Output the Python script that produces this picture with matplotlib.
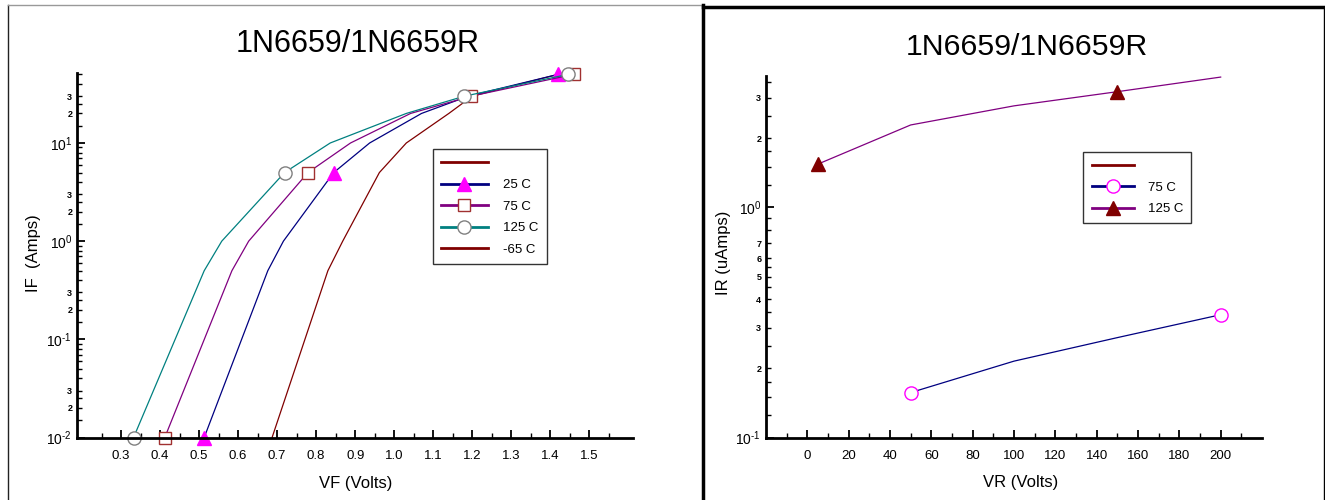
import numpy as np
import matplotlib
matplotlib.use('Agg')
import matplotlib.pyplot as plt
from matplotlib.ticker import FixedLocator, LogLocator, FuncFormatter
from matplotlib.lines import Line2D

plt.rcParams['font.family'] = ['Liberation Sans', 'DejaVu Sans']
plt.rcParams['mathtext.fontset'] = 'custom'
plt.rcParams['mathtext.rm'] = 'Liberation Sans'
plt.rcParams['mathtext.default'] = 'rm'

title = '1N6659/1N6659R'

# forward characteristic, IF in Amps
if_amps = [0.01, 0.5, 1.0, 5, 10, 20, 30, 50]
vf_25 = [0.513, 0.676, 0.716, 0.845, 0.937, 1.07, 1.19, 1.42]
vf_75 = [0.412, 0.584, 0.627, 0.779, 0.888, 1.042, 1.197, 1.46]
vf_125 = [0.332, 0.513, 0.558, 0.719, 0.836, 1.031, 1.18, 1.446]
vf_m65 = [0.687, 0.83, 0.868, 0.962, 1.031, 1.14, 1.20, 1.42]
vf_ticks = [0.3, 0.4, 0.5, 0.6, 0.7, 0.8, 0.9, 1.0, 1.1, 1.2, 1.3, 1.4, 1.5]

# reverse leakage, IR in uAmps
vr_75 = [50, 100, 150, 200]
ir_75 = [0.157, 0.215, 0.272, 0.342]
vr_125 = [5, 50, 100, 150, 200]
ir_125 = [1.54, 2.28, 2.76, 3.18, 3.68]
vr_ticks = [0, 20, 40, 60, 80, 100, 120, 140, 160, 180, 200]

navy = '#000080'
purple = '#800080'
teal = '#008080'
dred = '#800000'
magenta = '#ff00ff'

W, H = 1325, 500
fig = plt.figure(figsize=(13.25, 5), dpi=100)


def px_axes(l, r, t, b):
    return fig.add_axes([l / W, 1 - b / H, (r - l) / W, (b - t) / H])


def mantissa(v):
    return v / 10 ** np.floor(np.log10(v) + 1e-9)


def major_fmt(v, pos):
    e = int(round(np.log10(v)))
    if e < 0:
        return r'10$^{\text{-}%d}$' % -e
    return '10$^{%d}$' % e


def minor_fmt(keep):
    def f(v, pos):
        m = mantissa(v)
        for k in keep:
            if abs(m - k) < 1e-6:
                return str(k)
        return ''
    return f


def style(ax):
    for s in ['top', 'right']:
        ax.spines[s].set_visible(False)
    for s in ['left', 'bottom']:
        ax.spines[s].set_linewidth(2)
    ax.tick_params(which='major', direction='in', length=6, width=1.3, labelsize=9.5)
    ax.tick_params(which='minor', direction='in', length=3.5, width=1)
    ax.tick_params(axis='x', which='major', pad=9)
    ax.tick_params(axis='y', which='major', labelsize=10)
    ax.tick_params(axis='y', which='minor', labelsize=6.5)
    for lab in ax.get_yticklabels(minor=True):
        lab.set_fontweight('bold')


def make_legend(ax, handles, labels, hl, tp):
    leg = ax.legend(handles, labels, loc='upper left', bbox_to_anchor=(0.64, 0.79),
                    numpoints=1, fontsize=9.5, frameon=True, fancybox=False,
                    edgecolor='#333333', framealpha=1, handlelength=hl,
                    handletextpad=tp, labelspacing=0.7, borderpad=0.62,
                    borderaxespad=0)
    leg.get_frame().set_linewidth(1)
    for ln in leg.get_lines():
        ln.set_linewidth(2)
    return leg


# ---- left: forward voltage ----
ax1 = px_axes(77, 633, 72.7, 437.5)
ax1.set_yscale('log')
ax1.set_xlim(0.187, 1.612)
ax1.set_ylim(0.01, 52)

l_m65, = ax1.plot(vf_m65, if_amps, color=dred, lw=0.9)
l_25, = ax1.plot(vf_25, if_amps, color=navy, lw=0.9, marker='^', ms=10,
                 mfc=magenta, mec=magenta, markevery=[0, 3, 7], clip_on=False)
l_75, = ax1.plot(vf_75, if_amps, color=purple, lw=0.9, marker='s', ms=9,
                 mfc='white', mec='#a03030', markevery=[0, 3, 6, 7], clip_on=False)
l_125, = ax1.plot(vf_125, if_amps, color=teal, lw=0.9, marker='o', ms=9.5,
                  mfc='white', mec='#808080', markevery=[0, 3, 6, 7], clip_on=False)

ax1.xaxis.set_major_locator(FixedLocator(vf_ticks))
ax1.xaxis.set_minor_locator(FixedLocator([v - 0.05 for v in vf_ticks] + [1.55]))
ax1.xaxis.set_major_formatter(FuncFormatter(lambda v, p: '%.1f' % v))
ax1.yaxis.set_major_locator(LogLocator(base=10, numticks=10))
ax1.yaxis.set_minor_locator(LogLocator(base=10, subs=[1.5, 2, 2.5, 3, 4, 5, 6, 7, 8, 9], numticks=20))
ax1.yaxis.set_major_formatter(FuncFormatter(major_fmt))
ax1.yaxis.set_minor_formatter(FuncFormatter(minor_fmt([2, 3])))
style(ax1)

ax1.set_xlabel('VF (Volts)', fontsize=12, va='center')
ax1.xaxis.set_label_coords(0.501, -0.125)
ax1.set_ylabel('IF  (Amps)', fontsize=12, va='center')
ax1.yaxis.set_label_coords(-0.078, 0.506)

blank1 = Line2D([], [], color=dred)
make_legend(ax1, [blank1, l_25, l_75, l_125, l_m65], ['', '25 C', '75 C', '125 C', '-65 C'],
            3.55, 1.15)

fig.text(358 / W, 1 - 44 / H, title, fontsize=22, ha='center', va='center')

# ---- right: reverse current ----
ax2 = px_axes(766, 1262, 76, 437.7)
ax2.set_yscale('log')
ax2.set_xlim(-20, 220)
ax2.set_ylim(0.1, 3.72)

r_75, = ax2.plot(vr_75, ir_75, color=navy, lw=0.9, marker='o', ms=9.5,
                 mfc='white', mec=magenta, markevery=[0, 3], clip_on=False)
r_125, = ax2.plot(vr_125, ir_125, color=purple, lw=0.9, marker='^', ms=10,
                  mfc=dred, mec=dred, markevery=[0, 3], clip_on=False)

ax2.xaxis.set_major_locator(FixedLocator(vr_ticks))
ax2.xaxis.set_minor_locator(FixedLocator([v - 10 for v in vr_ticks] + [210]))
ax2.yaxis.set_major_locator(LogLocator(base=10, numticks=10))
ax2.yaxis.set_minor_locator(LogLocator(base=10, subs=[1.25, 1.5, 1.75, 2, 2.5, 3, 3.5, 4, 4.5,
                                                       5, 5.5, 6, 7, 8, 9], numticks=30))
ax2.yaxis.set_major_formatter(FuncFormatter(major_fmt))
ax2.yaxis.set_minor_formatter(FuncFormatter(minor_fmt([2, 3, 4, 5, 6, 7])))
style(ax2)

ax2.set_xlabel('VR (Volts)', fontsize=12, va='center')
ax2.xaxis.set_label_coords(0.514, -0.125)
ax2.set_ylabel('IR (uAmps)', fontsize=12, va='center')
ax2.yaxis.set_label_coords(-0.085, 0.51)

blank2 = Line2D([], [], color=dred)
make_legend(ax2, [blank2, r_75, r_125], ['', '75 C', '125 C'], 3.2, 1.05)

fig.text(1027 / W, 1 - 47 / H, title, fontsize=21.8, ha='center', va='center')

# panel frames
fig.add_artist(Line2D([8 / W, 8 / W], [0, 1 - 5 / H], color='#222222', lw=1, transform=fig.transFigure))
fig.add_artist(Line2D([8 / W, 703 / W], [1 - 5 / H, 1 - 5 / H], color='#999999', lw=1, transform=fig.transFigure))
fig.add_artist(Line2D([703 / W, 703 / W], [0, 1 - 5 / H], color='black', lw=2.5, transform=fig.transFigure))
fig.add_artist(Line2D([703 / W, 1], [1 - 7 / H, 1 - 7 / H], color='black', lw=2.5, transform=fig.transFigure))
fig.add_artist(Line2D([1324 / W, 1324 / W], [0, 1 - 7 / H], color='black', lw=1, transform=fig.transFigure))

fig.savefig('out.png', dpi=100)
